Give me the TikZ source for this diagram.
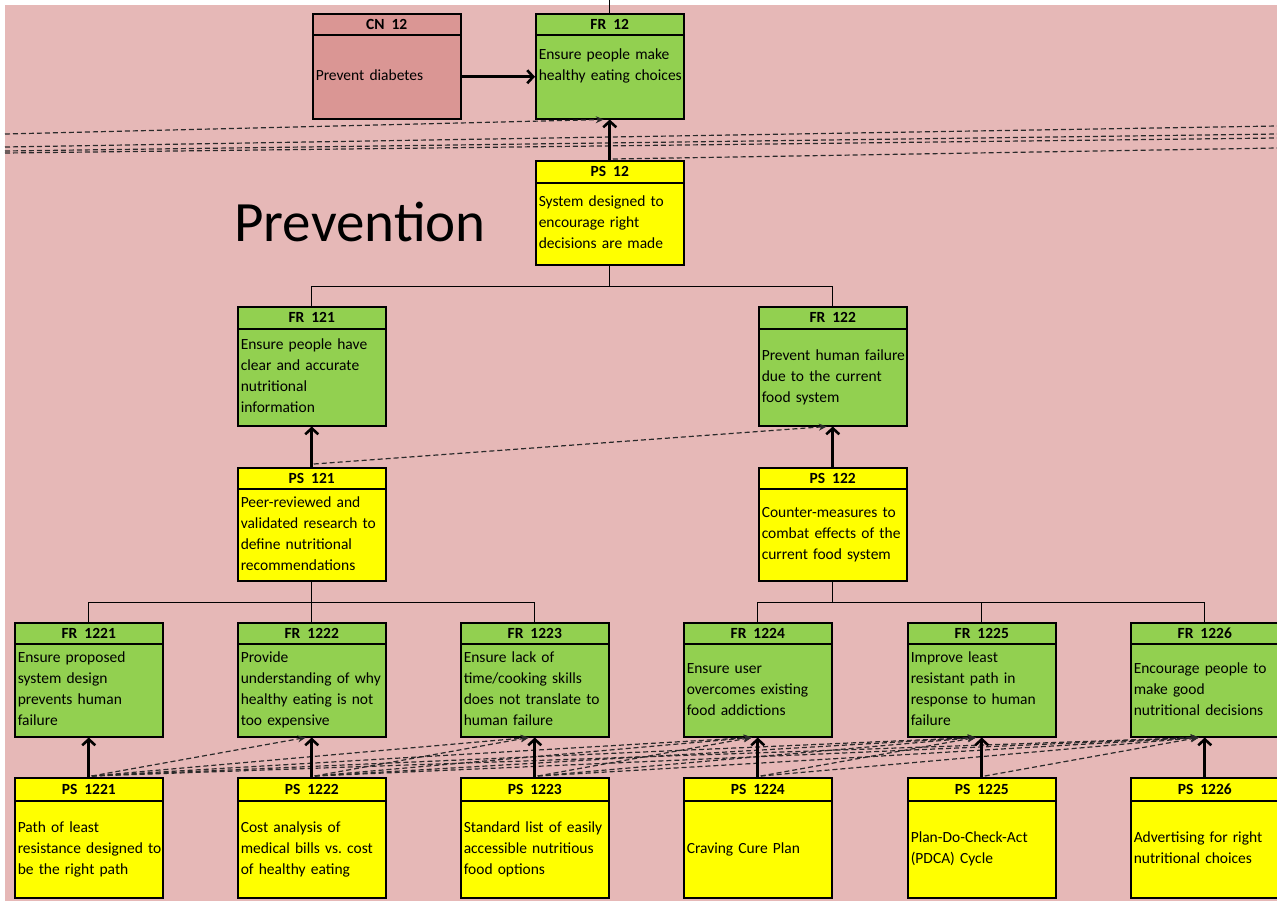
\documentclass[tikz,border=0pt]{standalone}
\usepackage{fontspec}
\setmainfont{Carlito}
\usetikzlibrary{arrows.meta,calc}
\definecolor{bgpink}{HTML}{E6B8B7}
\definecolor{cnred}{HTML}{DA9694}
\definecolor{frgreen}{HTML}{92D050}
\definecolor{psyellow}{HTML}{FFFF00}
\definecolor{dashgray}{HTML}{2A2A2A}
\frenchspacing
% two-part box: bold title strip on top, left-aligned body below
% #1 name, #2 x, #3 top y, #4 title height, #5 total height, #6 fill, #7 title, #8 body lines
\newcommand{\tbox}[8]{%
  \node[hdr, fill=#6, minimum height=#4pt] (h#1) at (#2,#3) {#7};
  \node[body, fill=#6, minimum height=#5pt-#4pt] (#1) at (#2,#3+#4)
    {\begin{tabular}{@{}l@{}}#8\end{tabular}};
}
\newcommand{\gap}{\hspace{0.45em}}
\begin{document}
\begin{tikzpicture}[x=1pt,y=-1pt,
  hdr/.style={draw=black, line width=1.5pt, minimum width=148pt, inner sep=0pt,
    anchor=north west, font=\fontsize{15.5}{18}\selectfont\bfseries},
  body/.style={draw=black, line width=1.5pt, minimum width=148pt, inner xsep=3pt,
    inner ysep=0pt, anchor=north west, text width=142pt, align=left,
    font=\fontsize{15.5}{21}\selectfont},
  solid/.style={draw=black, line width=2.6pt, -{Straight Barb[length=6pt,width=13pt]}},
  dasharrow/.style={draw=dashgray, line width=1.2pt, dash pattern=on 5pt off 3pt,
    -{Stealth[length=8pt,width=7pt]}},
  dashline/.style={draw=dashgray, line width=1.2pt, dash pattern=on 5pt off 3pt},
  tree/.style={draw=black, line width=1.3pt}
]
\useasboundingbox (0,0) rectangle (1277,903);
\fill[white] (0,0) rectangle (1277,903);
\fill[bgpink] (5,5) rectangle (1277,901);

% top level
\tbox{cn12}{312}{13}{21}{105}{cnred}{CN\gap 12}{Prevent diabetes}
\tbox{fr12}{535}{13}{21}{105}{frgreen}{FR\gap 12}{Ensure people make\\healthy eating choices\\~}
\tbox{ps12}{535}{160}{22}{104}{psyellow}{PS\gap 12}{System designed to\\encourage right\\decisions are made}

\node[font=\fontsize{57}{60}\selectfont] (title) at (360,222) {Prevention};

% second level
\tbox{fr121}{237}{306}{22}{119}{frgreen}{FR\gap 121}{Ensure people have\\clear and accurate\\nutritional\\information}
\tbox{fr122}{758}{306}{22}{119}{frgreen}{FR\gap 122}{Prevent human failure\\due to the current\\food system}
\tbox{ps121}{237}{467}{21}{113}{psyellow}{PS\gap 121}{Peer-reviewed and\\validated research to\\define nutritional\\recommendations}
\tbox{ps122}{758}{467}{21}{113}{psyellow}{PS\gap 122}{Counter-measures to\\combat effects of the\\current food system}

% third level requirements
\tbox{fr1221}{14}{622}{21}{114}{frgreen}{FR\gap 1221}{Ensure proposed\\system design\\prevents human\\failure}
\tbox{fr1222}{237}{622}{21}{114}{frgreen}{FR\gap 1222}{Provide\\understanding of why\\healthy eating is not\\too expensive}
\tbox{fr1223}{460}{622}{21}{114}{frgreen}{FR\gap 1223}{Ensure lack of\\time/cooking skills\\does not translate to\\human failure}
\tbox{fr1224}{683}{622}{21}{114}{frgreen}{FR\gap 1224}{Ensure user\\overcomes existing\\food addictions}
\tbox{fr1225}{907}{622}{21}{114}{frgreen}{FR\gap 1225}{Improve least\\resistant path in\\response to human\\failure}
\tbox{fr1226}{1130}{622}{21}{114}{frgreen}{FR\gap 1226}{Encourage people to\\make good\\nutritional decisions}

% third level solutions
\tbox{ps1221}{14}{777}{23}{120}{psyellow}{PS\gap 1221}{Path of least\\resistance designed to\\be the right path}
\tbox{ps1222}{237}{777}{23}{120}{psyellow}{PS\gap 1222}{Cost analysis of\\medical bills vs. cost\\of healthy eating}
\tbox{ps1223}{460}{777}{23}{120}{psyellow}{PS\gap 1223}{Standard list of easily\\accessible nutritious\\food options}
\tbox{ps1224}{683}{777}{23}{120}{psyellow}{PS\gap 1224}{Craving Cure Plan}
\tbox{ps1225}{907}{777}{23}{120}{psyellow}{PS\gap 1225}{Plan-Do-Check-Act\\(PDCA) Cycle}
\tbox{ps1226}{1130}{777}{23}{120}{psyellow}{PS\gap 1226}{Advertising for right\\nutritional choices}

% decomposition lines
\draw[tree] (hfr12.north) -- ++(0,-14) coordinate (upper);
\draw[tree] (ps12.south) -- ++(0,21) -| (hfr121.north);
\draw[tree] (ps12.south) -- ++(0,21) -| (hfr122.north);
\draw[tree] (ps121.south) -- ++(0,21) -| (hfr1221.north);
\draw[tree] (ps121.south) -- ++(0,21) -| (hfr1222.north);
\draw[tree] (ps121.south) -- ++(0,21) -| (hfr1223.north);
\draw[tree] (ps122.south) -- ++(0,21) -| (hfr1224.north);
\draw[tree] (ps122.south) -- ++(0,21) -| (hfr1225.north);
\draw[tree] (ps122.south) -- ++(0,21) -| (hfr1226.north);

% coupling lines crossing the upper band
\coordinate (la) at (5,134);
\coordinate (lb) at (5,147);  \coordinate (rb) at (1277,126);
\coordinate (lc) at (5,151);  \coordinate (rc) at (1277,134);
\coordinate (ld) at (5,153);  \coordinate (rd) at (1277,138);
\coordinate (re) at (1277,148);
\draw[dashline] (lb) -- (rb);
\draw[dashline] (lc) -- (rc);
\draw[dashline] (ld) -- (rd);
\draw[dashline] ($(hps12.north)+(3,-1)$) -- (re);
\draw[dasharrow] (la) -- ($(fr12.south)+(-6,0)$);

% off-diagonal couplings
\draw[dasharrow] ($(hps121.north)+(2,-3)$) -- ($(fr122.south)+(-6,0)$);
\foreach \i in {1,...,5}{
  \pgfmathtruncatemacro{\nxt}{\i+1}
  \foreach \j in {\nxt,...,6}{
    \draw[dasharrow] ($(hps122\i.north)+(3,-1)$) -- ($(fr122\j.south)+(-6,0)$);
  }
}

% design arrows
\draw[solid] (cn12.east) -- (fr12.west);
\draw[solid] (hps12.north) -- (fr12.south);
\draw[solid] (hps121.north) -- (fr121.south);
\draw[solid] (hps122.north) -- (fr122.south);
\foreach \i in {1,...,6}{
  \draw[solid] (hps122\i.north) -- (fr122\i.south);
}
\end{tikzpicture}
\end{document}
